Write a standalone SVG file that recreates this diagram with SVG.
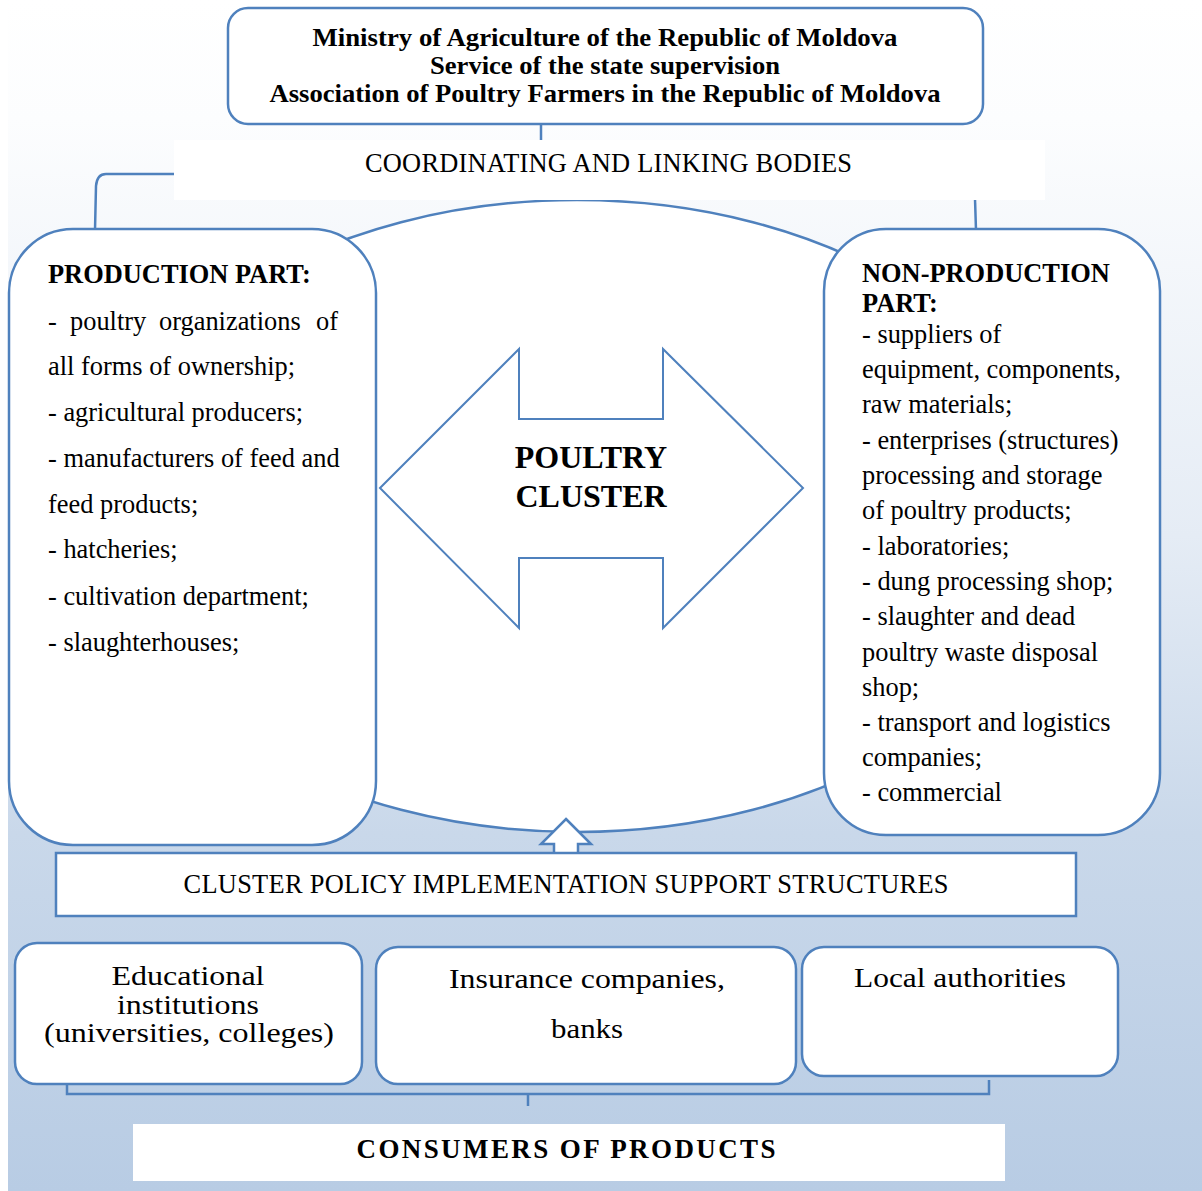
<svg xmlns="http://www.w3.org/2000/svg" width="1202" height="1191" viewBox="0 0 1202 1191">
<defs>
<linearGradient id="bg" x1="0" y1="0" x2="0" y2="1">
<stop offset="0" stop-color="#ffffff"/>
<stop offset="0.1" stop-color="#fcfdfe"/>
<stop offset="0.45" stop-color="#e5ecf5"/>
<stop offset="0.7" stop-color="#c9d8ea"/>
<stop offset="1" stop-color="#b8cce4"/>
</linearGradient>
<style>
.box{fill:#ffffff;stroke:#4f81bd;stroke-width:2.5}
.ln{fill:none;stroke:#4f81bd;stroke-width:2.5}
.t{font-family:"Liberation Serif","Times New Roman",serif;fill:#000}
.b{font-weight:bold}
.r26{font-size:26.4px}
.c{text-anchor:middle}
</style>
</defs>
<rect x="8" y="0" width="1194" height="1191" fill="url(#bg)"/>

<g id="cluster-ellipse">
<ellipse cx="577" cy="516" rx="478" ry="316" class="box"/>
</g>

<g id="connectors">
<path class="ln" d="M541,124 L541,141"/>
<path class="ln" d="M175,174 L106,174 Q97,174 96,186 L95,230"/>
<path class="ln" d="M975,199 L976,230"/>
<path class="ln" d="M67,1083 L67,1094 L989,1094 L989,1080 M528,1094 L528,1106"/>
</g>

<g id="coordinating">
<rect x="174" y="140" width="871" height="60" fill="#ffffff"/>
<text class="t r26 c" x="608.5" y="172" textLength="487">COORDINATING AND LINKING BODIES</text>
</g>

<g id="ministry">
<rect class="box" x="228" y="8" width="755" height="116" rx="20"/>
<text class="t b c" font-size="25" x="605" y="46" textLength="585" lengthAdjust="spacingAndGlyphs">Ministry of Agriculture of the Republic of Moldova</text>
<text class="t b c" font-size="25" x="605" y="74" textLength="350" lengthAdjust="spacingAndGlyphs">Service of the state supervision</text>
<text class="t b c" font-size="25" x="605" y="102" textLength="671" lengthAdjust="spacingAndGlyphs">Association of Poultry Farmers in the Republic of Moldova</text>
</g>

<g id="production">
<rect class="box" x="9" y="229" width="367" height="616" rx="64"/>
<text class="t b r26" x="48" y="283">PRODUCTION PART:</text>
<text class="t r26" y="330"><tspan x="48">-</tspan><tspan x="70">poultry</tspan><tspan x="159">organizations</tspan><tspan x="316">of</tspan></text>
<text class="t r26" x="48" y="375">all forms of ownership;</text>
<text class="t r26" x="48" y="421">- agricultural producers;</text>
<text class="t r26" x="48" y="467">- manufacturers of feed and</text>
<text class="t r26" x="48" y="513">feed products;</text>
<text class="t r26" x="48" y="558">- hatcheries;</text>
<text class="t r26" x="48" y="605">- cultivation department;</text>
<text class="t r26" x="48" y="651">- slaughterhouses;</text>
</g>

<g id="non-production">
<rect class="box" x="824" y="229" width="336" height="606" rx="62"/>
<text class="t b r26" x="862" y="282">NON-PRODUCTION</text>
<text class="t b r26" x="862" y="312">PART:</text>
<text class="t r26" x="862" y="343">- suppliers of</text>
<text class="t r26" x="862" y="378">equipment, components,</text>
<text class="t r26" x="862" y="413">raw materials;</text>
<text class="t r26" x="862" y="449">- enterprises (structures)</text>
<text class="t r26" x="862" y="484">processing and storage</text>
<text class="t r26" x="862" y="519">of poultry products;</text>
<text class="t r26" x="862" y="555">- laboratories;</text>
<text class="t r26" x="862" y="590">- dung processing shop;</text>
<text class="t r26" x="862" y="625">- slaughter and dead</text>
<text class="t r26" x="862" y="661">poultry waste disposal</text>
<text class="t r26" x="862" y="696">shop;</text>
<text class="t r26" x="862" y="731">- transport and logistics</text>
<text class="t r26" x="862" y="766">companies;</text>
<text class="t r26" x="862" y="801">- commercial</text>
</g>

<g id="poultry-cluster">
<polygon fill="#ffffff" stroke="#4f81bd" stroke-width="2" points="380,488 519,349 519,419 663,419 663,349 803,488 663,628 663,558 519,558 519,628"/>
<text class="t b c" font-size="32" x="591" y="468">POULTRY</text>
<text class="t b c" font-size="32" x="591" y="507">CLUSTER</text>
</g>

<g id="support-arrow">
<polygon fill="#ffffff" stroke="#4f81bd" stroke-width="2.5" points="566,819 591,844 578,844 578,854 554,854 554,844 541,844"/>
</g>

<g id="support-structures">
<rect x="56" y="853" width="1020" height="63" fill="#ffffff" stroke="#4f81bd" stroke-width="2.5"/>
<text class="t r26 c" x="566" y="893" textLength="765">CLUSTER POLICY IMPLEMENTATION SUPPORT STRUCTURES</text>
</g>

<g id="educational">
<rect class="box" x="15" y="943" width="347" height="141" rx="22"/>
<text class="t c" font-size="27" x="188" y="985" textLength="153" lengthAdjust="spacingAndGlyphs">Educational</text>
<text class="t c" font-size="27" x="188" y="1014" textLength="142" lengthAdjust="spacingAndGlyphs">institutions</text>
<text class="t c" font-size="27" x="189" y="1042" textLength="290" lengthAdjust="spacingAndGlyphs">(universities, colleges)</text>
</g>

<g id="insurance">
<rect class="box" x="376" y="947" width="420" height="137" rx="22"/>
<text class="t c" font-size="28" x="587" y="988" textLength="276" lengthAdjust="spacingAndGlyphs">Insurance companies,</text>
<text class="t c" font-size="28" x="587" y="1038" textLength="72" lengthAdjust="spacingAndGlyphs">banks</text>
</g>

<g id="local">
<rect class="box" x="802" y="947" width="316" height="129" rx="22"/>
<text class="t c" font-size="28" x="960" y="987" textLength="212" lengthAdjust="spacingAndGlyphs">Local authorities</text>
</g>

<g id="consumers">
<rect x="133" y="1124" width="872" height="57" fill="#ffffff"/>
<text class="t b c" font-size="27" x="566" y="1158" textLength="419">CONSUMERS OF PRODUCTS</text>
</g>
</svg>
